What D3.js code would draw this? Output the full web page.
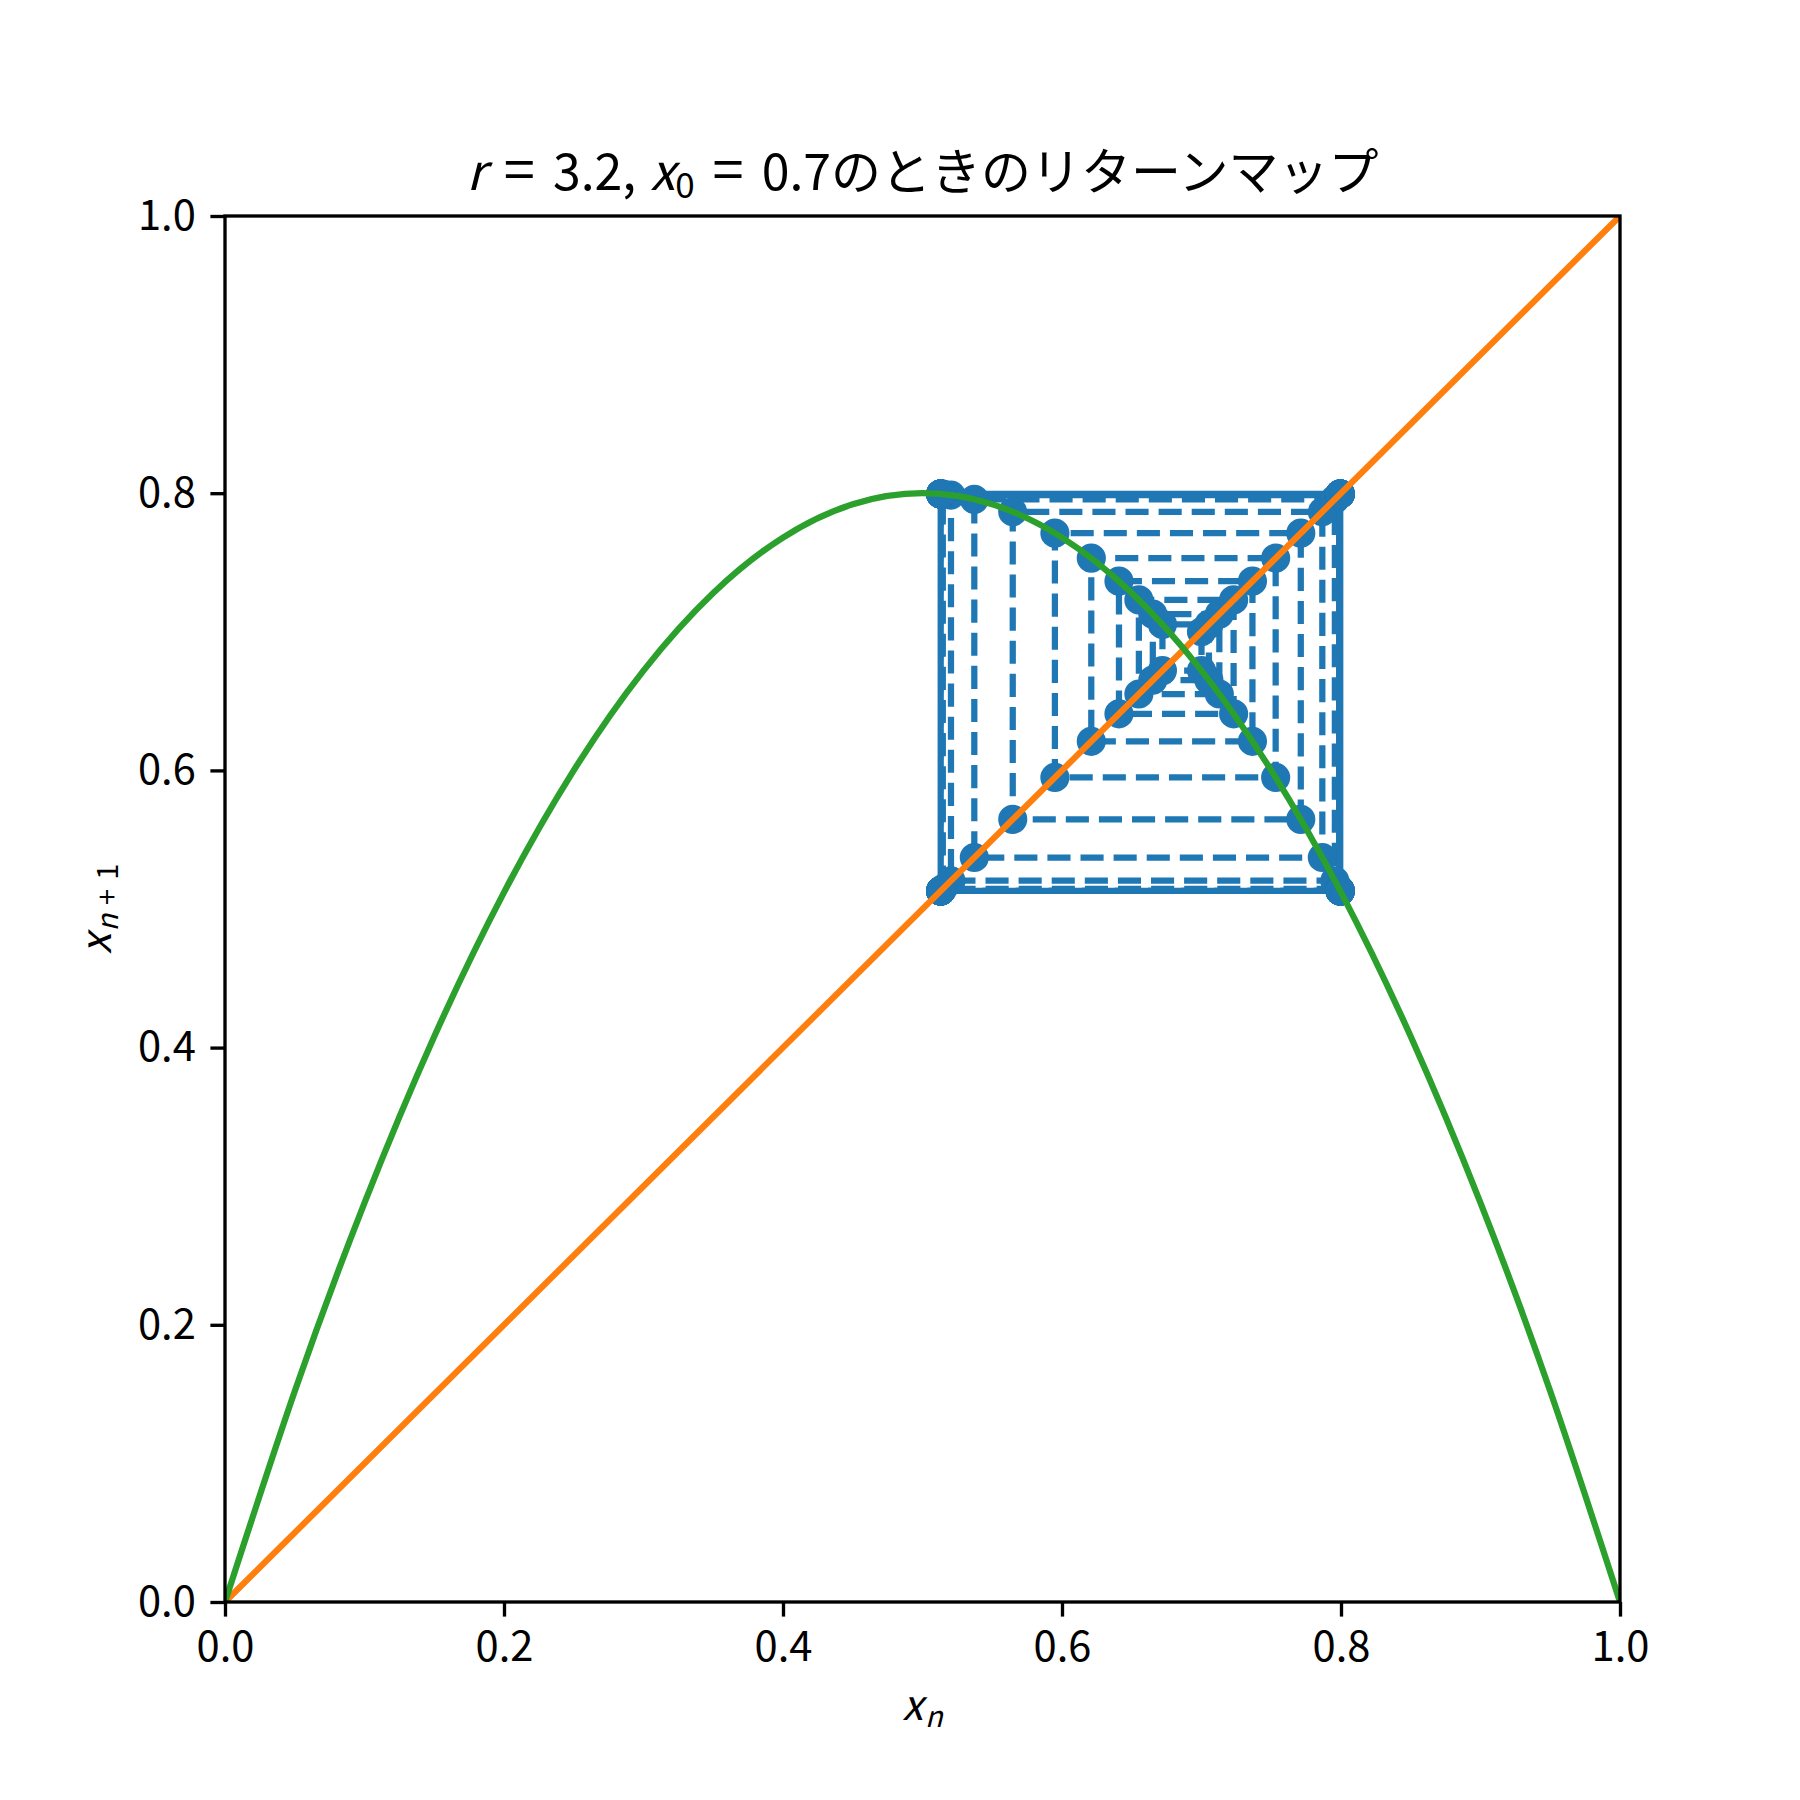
<!DOCTYPE html>
<html>
<head>
<meta charset="utf-8">
<script src="https://cdn.jsdelivr.net/npm/d3@7.9.0/dist/d3.min.js"></script>
<style>
  body { margin: 0; background: #fff; }
  text { font-family: "Noto Sans CJK JP", "Noto Sans", sans-serif; fill: #000; }
</style>
</head>
<body>
<svg id="chart" width="1800" height="1800"></svg>
<script>
// logistic map f(x) = r x (1 - x)
const curveX = [0, 0.05, 0.1, 0.15, 0.2, 0.25, 0.3, 0.35, 0.4, 0.45, 0.5,
                0.55, 0.6, 0.65, 0.7, 0.75, 0.8, 0.85, 0.9, 0.95, 1.0];
const curveY = [0, 0.152, 0.288, 0.408, 0.512, 0.6, 0.672, 0.728, 0.768, 0.792, 0.8,
                0.792, 0.768, 0.728, 0.672, 0.6, 0.512, 0.408, 0.288, 0.152, 0];

// y = x reference line
const diagX = [0, 1];
const diagY = [0, 1];

// iterates x_0, x_1, ... drawn as the cobweb
const iterates = [0.7, 0.672, 0.70533, 0.66509, 0.71279, 0.65511, 0.72302, 0.64084,
                  0.73652, 0.62099, 0.75316, 0.59491, 0.77117, 0.56469, 0.78661, 0.53714,
                  0.79559, 0.52041, 0.79867, 0.51455, 0.79932, 0.51330, 0.79943, 0.51309,
                  0.79945, 0.51305, 0.79945, 0.51305, 0.79945, 0.51305, 0.79945, 0.51305,
                  0.79945, 0.51305, 0.79945, 0.51305, 0.79945, 0.51305, 0.79945, 0.51305,
                  0.79945, 0.51305, 0.79945, 0.51305, 0.79945, 0.51305, 0.79945, 0.51305];

const tickValues = [0, 0.2, 0.4, 0.6, 0.8, 1.0];
const tickLabels = ['0.0', '0.2', '0.4', '0.6', '0.8', '1.0'];

const axLeft = 225, axRight = 1620, axTop = 216, axBottom = 1602;
const lw = 6.25;

const svg = d3.select('#chart');
const x = d3.scaleLinear().domain([0, 1]).range([axLeft, axRight]);
const y = d3.scaleLinear().domain([0, 1]).range([axBottom, axTop]);

svg.append('defs').append('clipPath').attr('id', 'clip')
    .append('rect')
    .attr('x', axLeft).attr('y', axTop)
    .attr('width', axRight - axLeft).attr('height', axBottom - axTop);

const plot = svg.append('g').attr('clip-path', 'url(#clip)');

// cobweb path: (x0,x0) -> (x0,x1) -> (x1,x1) -> (x1,x2) ...
let web = [[iterates[0], iterates[0]]];
for (let i = 0; i < iterates.length - 1; i++) {
    web.push([iterates[i], iterates[i + 1]]);
    web.push([iterates[i + 1], iterates[i + 1]]);
}

let line = d3.line().x(d => x(d[0])).y(d => y(d[1]));

plot.append('path')
    .attr('d', line(web))
    .attr('fill', 'none')
    .attr('stroke', '#1f77b4')
    .attr('stroke-width', lw)
    .attr('stroke-dasharray', '23.1 10')
    .attr('stroke-linejoin', 'round');

plot.selectAll('circle.web')
    .data(web)
    .join('circle')
    .attr('class', 'web')
    .attr('cx', d => x(d[0]))
    .attr('cy', d => y(d[1]))
    .attr('r', 12.5)
    .attr('fill', '#1f77b4')
    .attr('stroke', '#1f77b4')
    .attr('stroke-width', 4.17);

plot.append('path')
    .attr('d', line(diagX.map((v, i) => [v, diagY[i]])))
    .attr('fill', 'none')
    .attr('stroke', '#ff7f0e')
    .attr('stroke-width', lw)
    .attr('stroke-linecap', 'square');

plot.append('path')
    .attr('d', line.curve(d3.curveNatural)(curveX.map((v, i) => [v, curveY[i]])))
    .attr('fill', 'none')
    .attr('stroke', '#2ca02c')
    .attr('stroke-width', lw)
    .attr('stroke-linecap', 'square');

// axes
let xAxis = d3.axisBottom(x).tickValues(tickValues)
    .tickFormat((d, i) => tickLabels[i])
    .tickSize(14.6).tickPadding(14.6).tickSizeOuter(0);
let yAxis = d3.axisLeft(y).tickValues(tickValues)
    .tickFormat((d, i) => tickLabels[i])
    .tickSize(14.6).tickPadding(14.6).tickSizeOuter(0);

[svg.append('g').attr('transform', `translate(0,${axBottom})`).call(xAxis),
 svg.append('g').attr('transform', `translate(${axLeft},0)`).call(yAxis)]
    .forEach(g => {
        g.select('.domain').remove();
        g.selectAll('line').attr('stroke', '#000').attr('stroke-width', 3.33);
        g.selectAll('text').attr('font-size', 41.7)
            .attr('font-family', '"Noto Sans CJK JP", sans-serif').attr('fill', '#000');
    });

// spines
svg.append('rect')
    .attr('x', axLeft).attr('y', axTop)
    .attr('width', axRight - axLeft).attr('height', axBottom - axTop)
    .attr('fill', 'none').attr('stroke', '#000').attr('stroke-width', 3.33)
    .attr('stroke-linejoin', 'miter');

// title (mathtext-like spacing around "=")
let title = svg.append('text')
    .attr('x', (axLeft + axRight) / 2).attr('y', 190)
    .attr('text-anchor', 'middle').attr('font-size', 50);
title.append('tspan').attr('font-style', 'italic').text('r');
title.append('tspan').attr('dx', 18).attr('font-size', 56).text('=');
title.append('tspan').attr('dx', 18).text('3.2,');
title.append('tspan').attr('dx', 14).attr('font-style', 'italic').text('x');
title.append('tspan').attr('font-size', 35).attr('dy', 8).text('0');
title.append('tspan').attr('dx', 18).attr('dy', -8).attr('font-size', 56).text('=');
title.append('tspan').attr('dx', 18).text('0.7のときのリターンマップ');

// x label
let xl = svg.append('text')
    .attr('x', (axLeft + axRight) / 2).attr('y', 1720)
    .attr('text-anchor', 'middle').attr('font-size', 41.7);
xl.append('tspan').attr('font-style', 'italic').text('x');
xl.append('tspan').attr('font-style', 'italic').attr('font-size', 29).attr('dy', 7).attr('dx', 2).text('n');

// y label
let yl = svg.append('text')
    .attr('transform', `translate(111,${(axTop + axBottom) / 2}) rotate(-90)`)
    .attr('text-anchor', 'middle').attr('font-size', 41.7);
yl.append('tspan').attr('font-style', 'italic').text('x');
yl.append('tspan').attr('font-style', 'italic').attr('font-size', 29).attr('dy', 7).attr('dx', 2).text('n');
yl.append('tspan').attr('font-size', 29).attr('dx', 9).text('+');
yl.append('tspan').attr('font-size', 29).attr('dx', 9).text('1');
</script>
</body>
</html>
